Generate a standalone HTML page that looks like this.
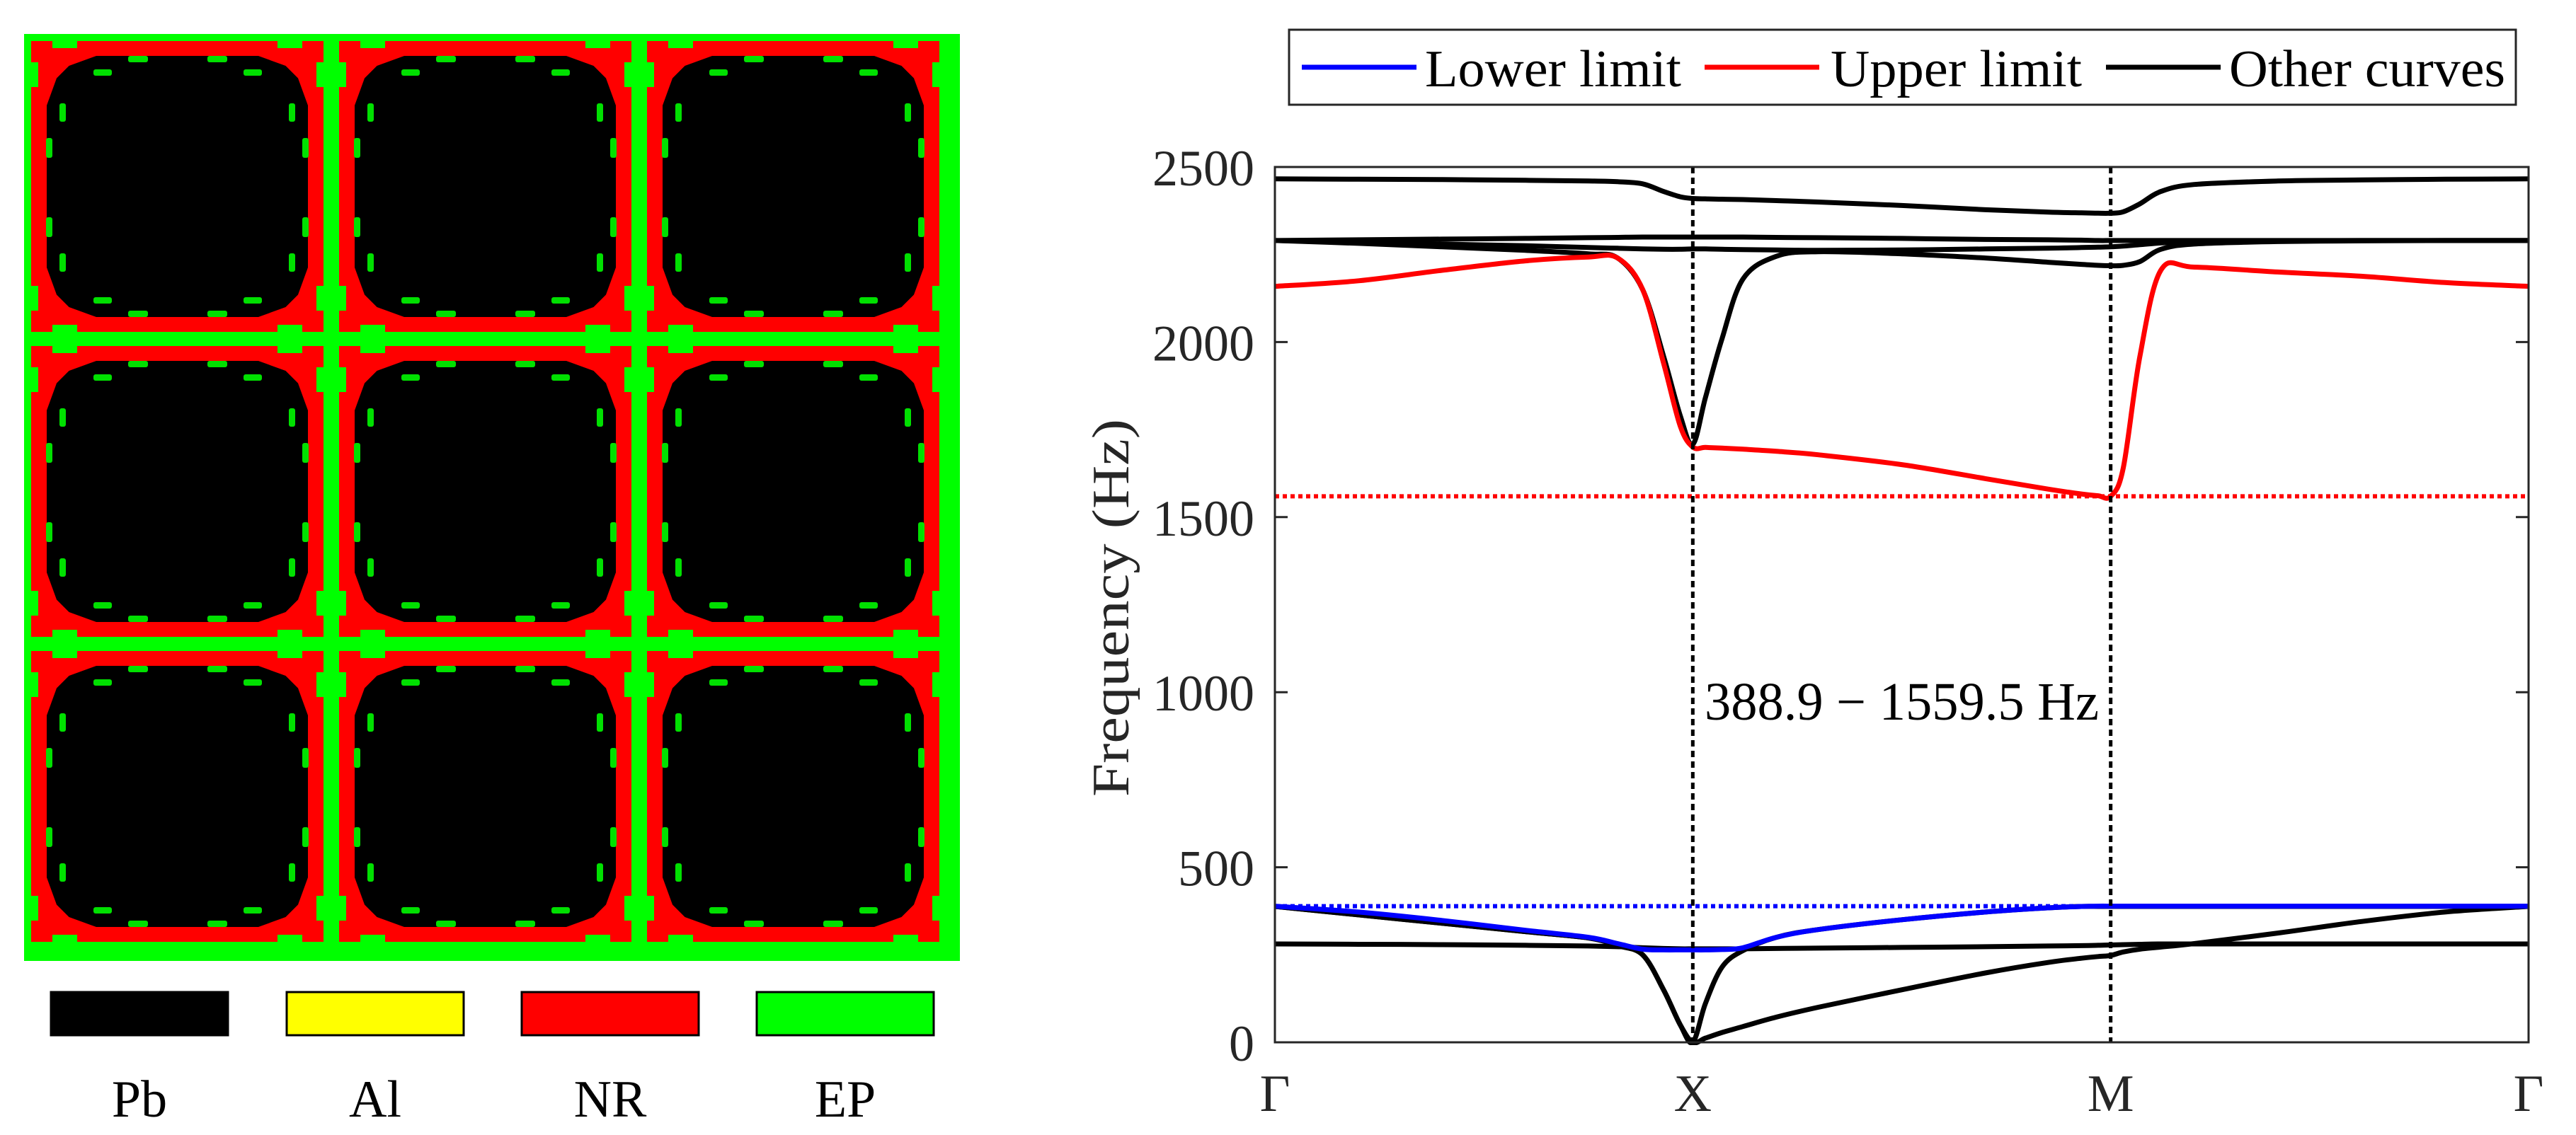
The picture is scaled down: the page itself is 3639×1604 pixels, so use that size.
<!DOCTYPE html>
<html><head><meta charset="utf-8">
<style>
html,body{margin:0;padding:0;background:#fff;}
svg{display:block;font-family:"Liberation Serif","DejaVu Serif",serif;}
</style></head>
<body>
<svg id="fig" width="3639" height="1604" viewBox="0 0 3639 1604" xmlns="http://www.w3.org/2000/svg">
  <g id="left"></g>
  <g id="matlegend"></g>
  <g id="chart"></g>
</svg>
<script>
// ---------- chart data ----------
const kGrid = [0,0.2,0.4,0.6,0.75,0.82,0.88,0.93,0.97,1.0,1.03,1.07,1.12,1.2,1.3,1.5,1.7,1.85,1.93,1.97,2.0,2.03,2.07,2.12,2.2,2.4,2.6,2.8,3.0];
const bandTop   = [2466,2465,2464,2462,2460,2458,2452,2430,2415,2410,2409,2408,2407,2404,2400,2390,2378,2371,2369,2368,2368,2372,2395,2430,2450,2460,2463,2465,2466];
const bandFlat  = [2290,2292,2294,2296,2298,2299,2300,2300,2300,2300,2300,2300,2300,2299,2298,2296,2293,2292,2291,2290,2290,2290,2290,2290,2290,2290,2290,2290,2290];
const bandMid   = [2290,2285,2280,2275,2270,2268,2266,2265,2265,2266,2266,2265,2264,2263,2262,2263,2266,2268,2270,2271,2272,2274,2278,2283,2287,2289,2290,2290,2290];
const bandDip   = [2290,2282,2272,2262,2252,2240,2150,1960,1790,1708,1840,2010,2180,2245,2258,2252,2240,2228,2222,2219,2218,2219,2230,2265,2280,2287,2289,2290,2290];
const upperLimit= [2159,2175,2205,2232,2243,2240,2150,1940,1760,1700,1699,1697,1694,1688,1678,1650,1610,1580,1566,1561,1559.5,1640,1960,2205,2214,2200,2188,2170,2159];
const lowerLimit= [388.9,372,348,320,300,282,266,264,264,264,264,265,270,300,322,350,372,384,388,388.9,388.9,388.9,388.9,388.9,388.9,388.9,388.9,388.9,388.9];
const bandAc1   = [388,364,340,316,298,276,250,150,50,0,12,28,45,72,100,150,198,228,240,245,248,258,266,272,282,312,345,372,388];
const bandAc2   = [388,364,340,316,298,276,250,150,50,0,110,215,262,300,322,350,372,384,388,388,388,388,388,388,388,388,388,388,388];
const bandLow   = [281,280,279,277,275,273,270,268,267,267,267,267,267,268,269,271,273,275,276,277,278,279,280,281,281,281,281,281,281];
const yTicks    = [0,500,1000,1500,2000,2500];
const xTickLabels = ["Γ","X","M","Γ"];
const xTickPos  = [0,1,2,3];
const gapLower  = 388.9;
const gapUpper  = 1559.5;

// ---------- axes ----------
const PX0=1801, PX1=3572, PY0=236, PY1=1473;
const xs = k => PX0 + (k/3)*(PX1-PX0);
const ys = f => PY1 - (f/2500)*(PY1-PY0);
const NS="http://www.w3.org/2000/svg";
function mk(tag, attrs, parent){const e=document.createElementNS(NS,tag);for(const a in attrs)e.setAttribute(a,attrs[a]);parent.appendChild(e);return e;}

function smoothPath(kArr, vArr){
  const p = kArr.map((k,i)=>[xs(k), ys(vArr[i])]);
  let d = `M${p[0][0].toFixed(1)},${p[0][1].toFixed(1)}`;
  for(let i=0;i<p.length-1;i++){
    const p0=p[Math.max(0,i-1)], p1=p[i], p2=p[i+1], p3=p[Math.min(p.length-1,i+2)];
    const t=0.5/3;
    const c1=[p1[0]+(p2[0]-p0[0])*t, p1[1]+(p2[1]-p0[1])*t];
    const c2=[p2[0]-(p3[0]-p1[0])*t, p2[1]-(p3[1]-p1[1])*t];
    d+=` C${c1[0].toFixed(1)},${c1[1].toFixed(1)} ${c2[0].toFixed(1)},${c2[1].toFixed(1)} ${p2[0].toFixed(1)},${p2[1].toFixed(1)}`;
  }
  return d;
}

const chart=document.getElementById('chart');
let fr=mk('rect',{x:PX0,y:PY0,width:PX1-PX0,height:PY1-PY0,fill:'#fff',stroke:'none'},chart);



const clip=mk('clipPath',{id:'pc'},chart);
mk('rect',{x:PX0,y:PY0-4,width:PX1-PX0,height:PY1-PY0+8},clip);
const plot=mk('g',{'clip-path':'url(#pc)'},chart);



const blackBands=[bandTop,bandFlat,bandMid,bandDip,bandLow,bandAc1,bandAc2];
const blackNames=['band-top','band-flat','band-mid','band-dip','band-low','band-acoustic-1','band-acoustic-2'];
blackBands.forEach((b,i)=>{
  const e=mk('path',{d:smoothPath(kGrid,b),fill:'none',stroke:'#000','stroke-width':7,'stroke-linejoin':'round'},plot);
  
  
});
let up=mk('path',{d:smoothPath(kGrid,upperLimit),fill:'none',stroke:'#ff0000','stroke-width':7,'stroke-linejoin':'round'},plot);


let lo=mk('path',{d:smoothPath(kGrid,lowerLimit),fill:'none',stroke:'#0000ff','stroke-width':7,'stroke-linejoin':'round'},plot);



let hu=mk('line',{x1:PX0,x2:PX1,y1:ys(gapUpper),y2:ys(gapUpper),stroke:'#ff0000','stroke-width':6,'stroke-dasharray':'6 5'},plot);


let hl=mk('line',{x1:PX0,x2:PX1,y1:ys(gapLower),y2:ys(gapLower),stroke:'#0000ff','stroke-width':6,'stroke-dasharray':'6 5'},plot);


[1,2].forEach(k=>{
  let v=mk('line',{x1:xs(xTickPos[k]),x2:xs(xTickPos[k]),y1:PY0,y2:PY1,stroke:'#000','stroke-width':5,'stroke-dasharray':'9 6'},plot);
  
  
});

let fr2=mk('rect',{x:PX0,y:PY0,width:PX1-PX0,height:PY1-PY0,fill:'none',stroke:'#262626','stroke-width':3},chart);



yTicks.forEach(t=>{
  const y=ys(t);
  mk('line',{x1:PX0,x2:PX0+18,y1:y,y2:y,stroke:'#262626','stroke-width':3},chart);
  mk('line',{x1:PX1-18,x2:PX1,y1:y,y2:y,stroke:'#262626','stroke-width':3},chart);
  const tx=mk('text',{x:1772,y:y+26,'font-size':72,'text-anchor':'end',fill:'#262626'},chart);
  tx.textContent=String(t);
  
  
});
xTickLabels.forEach((l,i)=>{
  const tx=mk('text',{x:xs(xTickPos[i]),y:1570,'font-size':74,'text-anchor':'middle',fill:'#262626'},chart);
  tx.textContent=l;
  
  
});
let yt=mk('text',{x:0,y:0,'font-size':74,'text-anchor':'middle',fill:'#262626',transform:'translate(1594,859) rotate(-90)',textLength:534,lengthAdjust:'spacingAndGlyphs'},chart);
yt.textContent='Frequency (Hz)';


let an=mk('text',{x:2408,y:1017,'font-size':76,fill:'#000',textLength:557,lengthAdjust:'spacingAndGlyphs'},chart);
an.textContent='388.9 − 1559.5 Hz';



const lg=mk('g',{},chart);


mk('rect',{x:1821,y:42,width:1733,height:106,fill:'#fff',stroke:'#262626','stroke-width':3},lg);
const legItems=[['Lower limit','#0000ff',1839,2013,362],['Upper limit','#ff0000',2408,2586,355],['Other curves','#000',2975,3149,390]];
legItems.forEach(it=>{
  const g=mk('g',{},lg);
  
  
  mk('line',{x1:it[2],x2:it[2]+162,y1:95,y2:95,stroke:it[1],'stroke-width':7},g);
  const t=mk('text',{x:it[3],y:122,'font-size':74,fill:'#000',textLength:it[4],lengthAdjust:'spacingAndGlyphs'},g);
  t.textContent=it[0];
});

// ---------- left pattern ----------
const L=document.getElementById('left');
mk('rect',{x:34,y:48,width:1322,height:1310,fill:'#00ff00'},L);
const ox=44, oy=58, pX=435, pY=431, rw=413, rh=411;
function cellPath(x,y,w,h,c){
  return `M${x+c},${y} H${x+w-c} L${x+w-c*0.45},${y+c*0.2} L${x+w-c*0.2},${y+c*0.45} L${x+w},${y+c} V${y+h-c} L${x+w-c*0.2},${y+h-c*0.45} L${x+w-c*0.45},${y+h-c*0.2} L${x+w-c},${y+h} H${x+c} L${x+c*0.45},${y+h-c*0.2} L${x+c*0.2},${y+h-c*0.45} L${x},${y+h-c} V${y+c} L${x+c*0.2},${y+c*0.45} L${x+c*0.45},${y+c*0.2} Z`;
}
for(let r=0;r<3;r++)for(let c=0;c<3;c++){
  const x=ox+c*pX, y=oy+r*pY;
  const g=mk('g',{},L);
  
  
  mk('rect',{x:x,y:y,width:rw,height:rh,fill:'#ff0000'},g);
  [[x+30,y],[x+rw-65,y],[x+30,y+rh-10],[x+rw-65,y+rh-10]].forEach(p=>mk('rect',{x:p[0],y:p[1],width:35,height:10,fill:'#00ff00'},g));
  [[x,y+30],[x+rw-10,y+30],[x,y+rh-65],[x+rw-10,y+rh-65]].forEach(p=>mk('rect',{x:p[0],y:p[1],width:10,height:35,fill:'#00ff00'},g));
  mk('path',{d:cellPath(x+22,y+21,rw-44,rh-42,70),fill:'#000'},g);
  const dots=[[137,21,28,9],[249,21,28,9],[88,40,26,9],[300,40,26,9],
              [137,rh-30,28,9],[249,rh-30,28,9],[88,rh-49,26,9],[300,rh-49,26,9],
              [21,137,9,28],[21,249,9,28],[40,88,9,26],[40,300,9,26],
              [rw-30,137,9,28],[rw-30,249,9,28],[rw-49,88,9,26],[rw-49,300,9,26]];
  dots.forEach(d=>mk('rect',{x:x+d[0],y:y+d[1],width:d[2],height:d[3],fill:'#00e000',rx:3},g));
}

const ML=document.getElementById('matlegend');
const mats=[['Pb','#000000',72],['Al','#ffff00',405],['NR','#ff0000',737],['EP','#00ff00',1069]];
mats.forEach(m=>{
  const g=mk('g',{},ML);
  
  
  mk('rect',{x:m[2],y:1402,width:250,height:61,fill:m[1],stroke:'#000','stroke-width':3},g);
  const t=mk('text',{x:m[2]+125,y:1578,'font-size':74,'text-anchor':'middle',fill:'#000'},g);
  t.textContent=m[0];
});
</script>
</body></html>
